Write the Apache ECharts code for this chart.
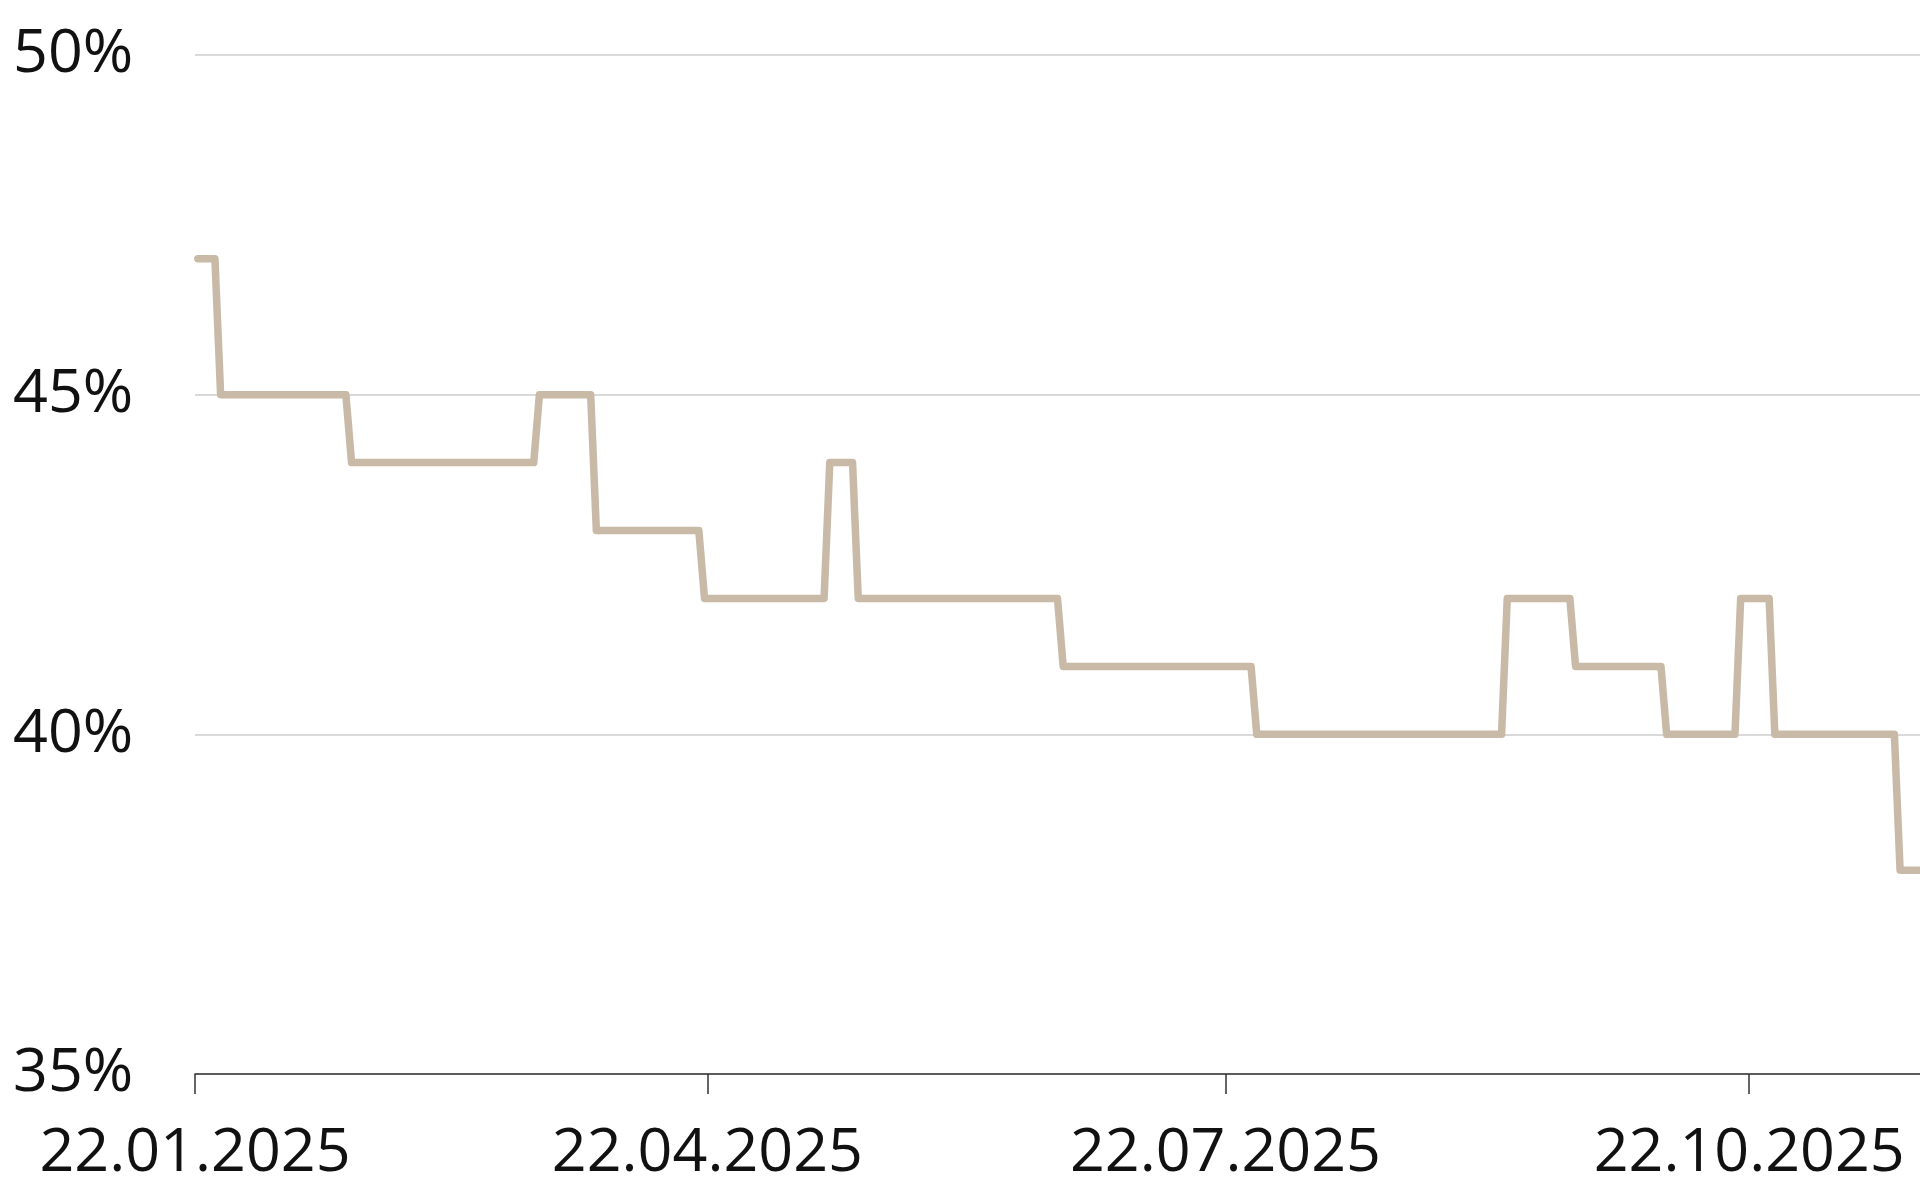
<!DOCTYPE html>
<html>
<head>
<meta charset="utf-8">
<script src="https://cdn.jsdelivr.net/npm/echarts@6/dist/echarts.min.js"></script>
<style>
html,body{margin:0;padding:0;background:#fff;}
#chart{width:1920px;height:1200px;}
</style>
</head>
<body>
<div id="chart"></div>
<script>
// Step segments: first day, last day, value (%)
var segStart = ['2025-01-22','2025-01-26','2025-02-18','2025-03-23','2025-04-02','2025-04-21','2025-05-13','2025-05-18','2025-06-23','2025-07-27','2025-09-09','2025-09-21','2025-10-07','2025-10-20','2025-10-26','2025-11-17'];
var segEnd   = ['2025-01-25','2025-02-17','2025-03-22','2025-04-01','2025-04-20','2025-05-12','2025-05-17','2025-06-22','2025-07-26','2025-09-08','2025-09-20','2025-10-06','2025-10-19','2025-10-25','2025-11-16','2025-11-21'];
var segValue = [47,45,44,45,43,42,44,42,41,40,42,41,40,42,40,38];

var xTickDates = ['2025-01-22','2025-04-22','2025-07-22','2025-10-22'];
var yTicks = [35,40,45,50];

var HALF_DAY = 12*3600*1000; // each daily value drawn at the middle of its day
function t(s){ return Date.UTC(+s.slice(0,4), +s.slice(5,7)-1, +s.slice(8,10)); }
var data = [];
for (var i=0;i<segValue.length;i++){
  data.push([t(segStart[i])+HALF_DAY, segValue[i]]);
  if (segEnd[i] !== segStart[i]) data.push([t(segEnd[i])+HALF_DAY, segValue[i]]);
}
var tickVals = xTickDates.map(t);
function pad(n){return (n<10?'0':'')+n;}
function fmt(v){ var d=new Date(v); return pad(d.getUTCDate())+'.'+pad(d.getUTCMonth()+1)+'.'+d.getUTCFullYear(); }

var chart = echarts.init(document.getElementById('chart'), null, {renderer:'canvas'});
chart.setOption({
  animation:false,
  backgroundColor:'#ffffff',
  textStyle:{fontFamily:'Open Sans'},
  grid:{left:195,right:0,top:55,bottom:126,containLabel:false},
  xAxis:{
    type:'value',
    min:t(segStart[0]),
    max:t(segEnd[segEnd.length-1]),
    axisLine:{show:true,lineStyle:{color:'#333333',width:1.5}},
    axisTick:{show:true,length:20,lineStyle:{color:'#333333',width:1.5},customValues:tickVals},
    axisLabel:{show:true,customValues:tickVals,formatter:function(v){return fmt(v);},
      color:'#111111',fontSize:61,fontFamily:'Open Sans',margin:49,hideOverlap:false},
    splitLine:{show:false}
  },
  yAxis:{
    type:'value',
    min:yTicks[0],max:yTicks[yTicks.length-1],interval:5,
    axisLine:{show:false},
    axisTick:{show:false},
    axisLabel:{formatter:'{value}%',color:'#111111',fontSize:61,fontFamily:'Open Sans',align:'left',margin:182,verticalAlign:'middle',padding:[0,0,8,0]},
    splitLine:{show:true,lineStyle:{color:'#cccccc',width:1.5}}
  },
  series:[{
    type:'line',
    data:data,
    showSymbol:false,
    symbol:'none',
    lineStyle:{color:'#C9B9A7',width:7.5,join:'round',cap:'round'},
    clip:false
  }]
});
</script>
</body>
</html>
